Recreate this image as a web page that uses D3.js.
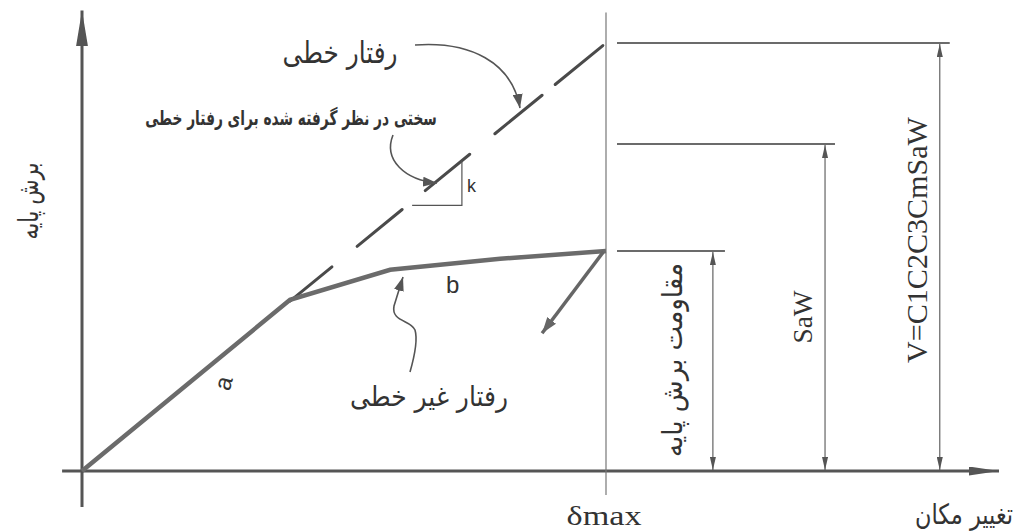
<!DOCTYPE html>
<html><head><meta charset="utf-8">
<script src="https://cdn.jsdelivr.net/npm/d3@7"></script>
<style>html,body{margin:0;padding:0;background:#fff;}svg{display:block;}</style>
</head><body>
<svg id="c" width="1023" height="532"></svg>
<script>
// ---- data (displacement units: δmax = 100; base shear units: V = 100) ----
const axisX = [-3.8, 175];
const axisY = [-8.4, 107.6];
const deltaMax = 100;
const linearLine = [[0, 0], [100, 100]];
const linearDashes = [[39.7, 47.7], [52.5, 61.1], [65.5, 74.0], [78.8, 87.8], [90.3, 99.4]];
const nonlinearCurve = [[0, 0], [39.7, 40.0], [58.8, 47.0], [79.8, 49.6], [100, 51.4]];
const unloadingArrow = [[99.5, 51.2], [87.8, 32.2]];
const levelLabels = ["مقاومت برش پایه", "SaW", "V=C1C2C3CmSaW"];
const levelValues = [51.4, 76.4, 100];
const levelArrowX = [120.4, 141.8, 163.7];
const levelLineEnd = [122.7, 143.7, 165.6];
const yAxisTitle = "برش پایه";
const xAxisTitle = "تغییر مکان";
const deltaLabel = "δmax";
const linearLabel = "رفتار خطی";
const stiffnessLabel = "سختی در نظر گرفته شده برای رفتار خطی";
const nonlinearLabel = "رفتار غیر خطی";
const segLabels = ["a", "b", "k"];

const svg = d3.select("#c");
const x = d3.scaleLinear().domain([0, 100]).range([82, 606]);
const y = d3.scaleLinear().domain([0, 100]).range([471, 43]);
const ink = "#555", dark = "#333";
const fa = "'DejaVu Sans', sans-serif";
const serif = "'Liberation Serif', 'Times New Roman', serif";

const defs = svg.append("defs");
function marker(id, len, hw, col) {
  defs.append("marker").attr("id", id).attr("viewBox", `0 ${-hw} ${len} ${2 * hw}`)
    .attr("refX", len).attr("refY", 0).attr("markerWidth", len).attr("markerHeight", 2 * hw)
    .attr("markerUnits", "userSpaceOnUse").attr("orient", "auto-start-reverse")
    .append("path").attr("d", `M0,${-hw}L${len},0L0,${hw}Z`).attr("fill", col);
}
marker("axArrY", 36, 6, "#555");
marker("axArrX", 30, 4.5, "#555");
marker("dim", 13, 3, "#555");
marker("ann", 14, 5, "#555");
marker("unl", 16, 5.5, "#666");

// axes
svg.append("line").attr("x1", x(0)).attr("x2", x(0)).attr("y1", y(axisY[0])).attr("y2", y(axisY[1]))
  .attr("stroke", ink).attr("stroke-width", 3).attr("marker-end", "url(#axArrY)");
svg.append("line").attr("x1", x(axisX[0])).attr("x2", x(axisX[1])).attr("y1", y(0)).attr("y2", y(0))
  .attr("stroke", ink).attr("stroke-width", 3).attr("marker-end", "url(#axArrX)");

// δmax vertical line
svg.append("line").attr("x1", x(deltaMax)).attr("x2", x(deltaMax)).attr("y1", y(axisY[1]) + 2).attr("y2", y(-5.6))
  .attr("stroke", "#777").attr("stroke-width", 1.2);

// linear behaviour dashes
const lin = t => linearLine[0][1] + (linearLine[1][1] - linearLine[0][1]) * (t - linearLine[0][0]) / (linearLine[1][0] - linearLine[0][0]);
svg.selectAll(".dash").data(linearDashes).join("line")
  .attr("x1", d => x(d[0])).attr("y1", d => y(lin(d[0])))
  .attr("x2", d => x(d[1])).attr("y2", d => y(lin(d[1])))
  .attr("stroke", "#4a4a4a").attr("stroke-width", 3).attr("stroke-linecap", "round");

// nonlinear curve
svg.append("path").datum(nonlinearCurve)
  .attr("d", d3.line().x(d => x(d[0])).y(d => y(d[1])))
  .attr("fill", "none").attr("stroke", "#6b6b6b").attr("stroke-width", 4.5).attr("stroke-linejoin", "miter");

// unloading arrow
svg.append("line").attr("x1", x(unloadingArrow[0][0])).attr("y1", y(unloadingArrow[0][1]))
  .attr("x2", x(unloadingArrow[1][0])).attr("y2", y(unloadingArrow[1][1]))
  .attr("stroke", "#666").attr("stroke-width", 3.5).attr("marker-end", "url(#unl)");

// level lines and dimension arrows
levelValues.forEach((v, i) => {
  svg.append("line").attr("x1", x(deltaMax) + 11).attr("x2", x(levelLineEnd[i])).attr("y1", y(v)).attr("y2", y(v))
    .attr("stroke", "#3a3a3a").attr("stroke-width", 1.6);
  svg.append("line").attr("x1", x(levelArrowX[i])).attr("x2", x(levelArrowX[i])).attr("y1", y(v) + 1).attr("y2", y(0) - 1)
    .attr("stroke", "#555").attr("stroke-width", 1.1)
    .attr("marker-start", "url(#dim)").attr("marker-end", "url(#dim)");
});

// stiffness triangle (k)
const kx1 = 63.0, kx2 = 72.5;
svg.append("path").attr("d", `M${x(kx2)},${y(lin(kx2))}V${y(lin(kx1)) + 4}H${x(kx1)}`)
  .attr("fill", "none").attr("stroke", "#555").attr("stroke-width", 1.2);

// text at a fixed font size, scaled along its run to a target length
function fitText(str, cx, cy, width, opts) {
  const g = svg.append("g").attr("transform", `translate(${cx},${cy})` + (opts.rot ? ` rotate(${opts.rot})` : ""));
  const t = g.append("text").text(str)
    .style("font-family", opts.font).style("font-size", opts.fs + "px")
    .style("font-weight", opts.weight || "normal")
    .attr("fill", opts.fill || dark).attr("text-anchor", "middle").attr("dominant-baseline", "central");
  const w = t.node().getComputedTextLength() || t.node().getBBox().width;
  if (w > 0) t.attr("transform", `scale(${(width / w).toFixed(4)},1)`);
  return t;
}

// Persian labels
fitText(yAxisTitle, 28, 201, 77, {font: fa, fs: 28, rot: -90});
fitText(linearLabel, 340, 52, 115, {font: fa, fs: 30});
fitText(stiffnessLabel, 291, 118, 292, {font: fa, fs: 20, weight: "bold"});
fitText(nonlinearLabel, 429, 396, 158, {font: fa, fs: 28});
fitText(xAxisTitle, 964, 514, 98, {font: fa, fs: 28});
fitText(levelLabels[0], 672, 360, 194, {font: fa, fs: 28, rot: -90});

// serif labels
fitText(levelLabels[1], 802, 317, 53, {font: serif, fs: 28, rot: -90});
fitText(levelLabels[2], 917, 240, 246, {font: serif, fs: 30, rot: -90});
fitText(deltaLabel, 604, 516, 75, {font: serif, fs: 27});

// segment letters
svg.append("text").text(segLabels[0]).attr("font-family", "'Liberation Sans', sans-serif").attr("font-size", 24)
  .attr("fill", dark).attr("text-anchor", "middle").attr("dominant-baseline", "central")
  .attr("transform", "translate(223,383) rotate(-75)");
svg.append("text").text(segLabels[1]).attr("font-family", "'Liberation Sans', sans-serif").attr("font-size", 24)
  .attr("fill", dark).attr("x", 446).attr("y", 293);
svg.append("text").text(segLabels[2]).attr("font-family", "'Liberation Sans', sans-serif").attr("font-size", 18)
  .attr("fill", dark).attr("x", 467).attr("y", 192);

// annotation arrows
const ann = [
  "M415,45 C470,41 512,62 520,108",
  "M393,135 C383,160 405,180 437,183",
  "M410,372 C414,358 418,340 415,330 C411,320 391,322 394,306 L403,277"
];
svg.selectAll(".ann").data(ann).join("path").attr("d", d => d)
  .attr("fill", "none").attr("stroke", "#555").attr("stroke-width", 1.6).attr("marker-end", "url(#ann)");
</script>
</body></html>
